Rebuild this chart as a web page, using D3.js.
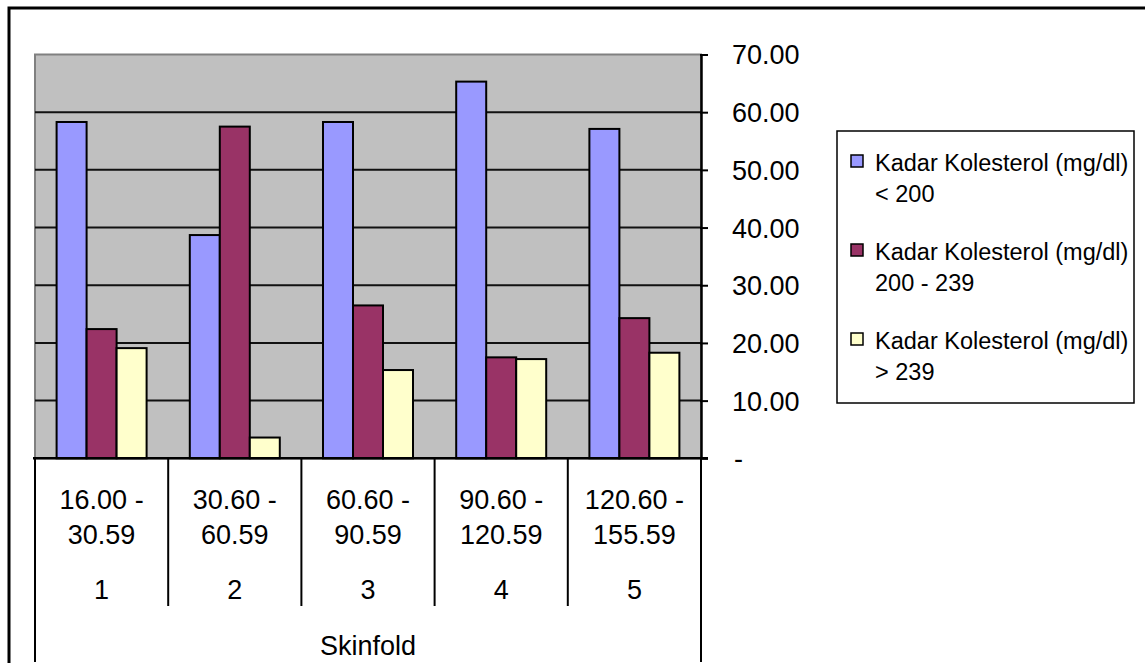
<!DOCTYPE html>
<html>
<head>
<meta charset="utf-8">
<script src="https://cdn.jsdelivr.net/npm/d3@7/dist/d3.min.js"></script>
<style>
  html, body { margin: 0; padding: 0; background: #ffffff; }
  svg { display: block; font-family: "Liberation Sans", Arial, sans-serif; }
</style>
</head>
<body>
<svg id="chart" width="1145" height="663"></svg>
<script>
// Skinfold groups (range on first line, group number below)
const categories = ["1", "2", "3", "4", "5"];
const rangeLabels = [
  ["16.00 -", "30.59"],
  ["30.60 -", "60.59"],
  ["60.60 -", "90.59"],
  ["90.60 -", "120.59"],
  ["120.60 -", "155.59"]
];
const axisTitle = "Skinfold";

// Percentage per cholesterol level
const seriesNames = [
  ["Kadar Kolesterol (mg/dl)", "< 200"],
  ["Kadar Kolesterol (mg/dl)", "200 - 239"],
  ["Kadar Kolesterol (mg/dl)", "> 239"]
];
const below200 = [58.3, 38.7, 58.3, 65.3, 57.1];
const from200to239 = [22.4, 57.5, 26.5, 17.5, 24.3];
const above239 = [19.1, 3.6, 15.3, 17.2, 18.3];
const seriesColors = ["#9999ff", "#993366", "#ffffcc"];
const yTicks = [0, 10, 20, 30, 40, 50, 60, 70];

const seriesValues = [below200, from200to239, above239];
const seriesKeys = ["s0", "s1", "s2"];

const svg = d3.select("#chart");

// chart frame
svg.append("rect")
  .attr("x", 9).attr("y", 8)
  .attr("width", 1160).attr("height", 680)
  .attr("fill", "#ffffff").attr("stroke", "#000").attr("stroke-width", 3);

const plot = { left: 35, right: 701, top: 54.5, bottom: 458.3 };

const x = d3.scaleBand().domain(categories).range([plot.left, plot.right]).padding(0);
const xs = d3.scaleBand().domain(seriesKeys).range([0, x.bandwidth()])
  .paddingInner(0).paddingOuter(0.72);
const y = d3.scaleLinear().domain([0, 70]).range([plot.bottom, plot.top]);

// plot background
svg.append("rect")
  .attr("x", plot.left).attr("y", plot.top)
  .attr("width", plot.right - plot.left).attr("height", plot.bottom - plot.top)
  .attr("fill", "#c0c0c0").attr("stroke", "#808080").attr("stroke-width", 2);

// horizontal gridlines
svg.append("g")
  .selectAll("line")
  .data(yTicks.filter(d => d > 0 && d < 70))
  .join("line")
  .attr("x1", plot.left).attr("x2", plot.right)
  .attr("y1", d => y(d)).attr("y2", d => y(d))
  .attr("stroke", "#111").attr("stroke-width", 2);

// bars
const rows = categories.map((c, i) => ({ cat: c, vals: seriesValues.map(s => s[i]) }));
svg.append("g")
  .selectAll("g")
  .data(rows)
  .join("g")
  .attr("transform", d => `translate(${x(d.cat)},0)`)
  .selectAll("rect")
  .data(d => d.vals.map((v, k) => ({ key: seriesKeys[k], v, k })))
  .join("rect")
  .attr("x", d => xs(d.key))
  .attr("y", d => y(d.v))
  .attr("width", xs.bandwidth())
  .attr("height", d => y(0) - y(d.v))
  .attr("fill", d => seriesColors[d.k])
  .attr("stroke", "#000").attr("stroke-width", 2);

// value axis on the right
const yAxis = d3.axisRight(y)
  .tickValues(yTicks)
  .tickSizeInner(7).tickSizeOuter(0)
  .tickPadding(24)
  .tickFormat(d => d === 0 ? "-" : d3.format(".2f")(d));
const ya = svg.append("g")
  .attr("transform", `translate(${plot.right},0)`)
  .call(yAxis);
ya.select(".domain").attr("stroke", "#000").attr("stroke-width", 2.5);
ya.selectAll(".tick line").attr("stroke", "#000").attr("stroke-width", 2).attr("x1", -1);
ya.selectAll(".tick text")
  .attr("fill", "#000")
  .style("font-size", "27px")
  .attr("dy", "0.35em")
  .attr("x", d => d === 0 ? 33 : 31);

// category axis line
svg.append("line")
  .attr("x1", plot.left - 2).attr("x2", plot.right + 7)
  .attr("y1", y(0)).attr("y2", y(0))
  .attr("stroke", "#000").attr("stroke-width", 2.5);

// category dividers
const bounds = categories.map(c => x(c)).concat([x(categories[categories.length - 1]) + x.bandwidth()]);
svg.append("g")
  .selectAll("line")
  .data(bounds)
  .join("line")
  .attr("x1", d => d).attr("x2", d => d)
  .attr("y1", y(0))
  .attr("y2", (d, i) => (i === 0 || i === bounds.length - 1) ? 662 : 606)
  .attr("stroke", "#000").attr("stroke-width", 2);

// category labels
const lab = svg.append("g").attr("fill", "#000").style("font-size", "27px").attr("text-anchor", "middle");
categories.forEach((c, i) => {
  const cx = x(c) + x.bandwidth() / 2;
  lab.append("text").attr("x", cx).attr("y", 500).attr("dy", "0.35em").text(rangeLabels[i][0]);
  lab.append("text").attr("x", cx).attr("y", 534.5).attr("dy", "0.35em").text(rangeLabels[i][1]);
  lab.append("text").attr("x", cx).attr("y", 590).attr("dy", "0.35em").text(c);
});
lab.append("text")
  .attr("x", (plot.left + plot.right) / 2).attr("y", 646).attr("dy", "0.35em")
  .text(axisTitle);

// legend
const legend = svg.append("g");
legend.append("rect")
  .attr("x", 837).attr("y", 131).attr("width", 297).attr("height", 272)
  .attr("fill", "#fff").attr("stroke", "#000").attr("stroke-width", 1.5);
const legendY = [163, 252, 341];
seriesNames.forEach((nm, i) => {
  legend.append("rect")
    .attr("x", 851).attr("y", legendY[i] - 8).attr("width", 12).attr("height", 12)
    .attr("fill", seriesColors[i]).attr("stroke", "#000").attr("stroke-width", 1.5);
  const t = legend.append("text").attr("fill", "#000").style("font-size", "23.5px");
  t.append("tspan").attr("x", 875).attr("y", legendY[i]).attr("dy", "0.35em").text(nm[0]);
  t.append("tspan").attr("x", 875).attr("y", legendY[i] + 31).attr("dy", "0.35em").text(nm[1]);
});
</script>
</body>
</html>
